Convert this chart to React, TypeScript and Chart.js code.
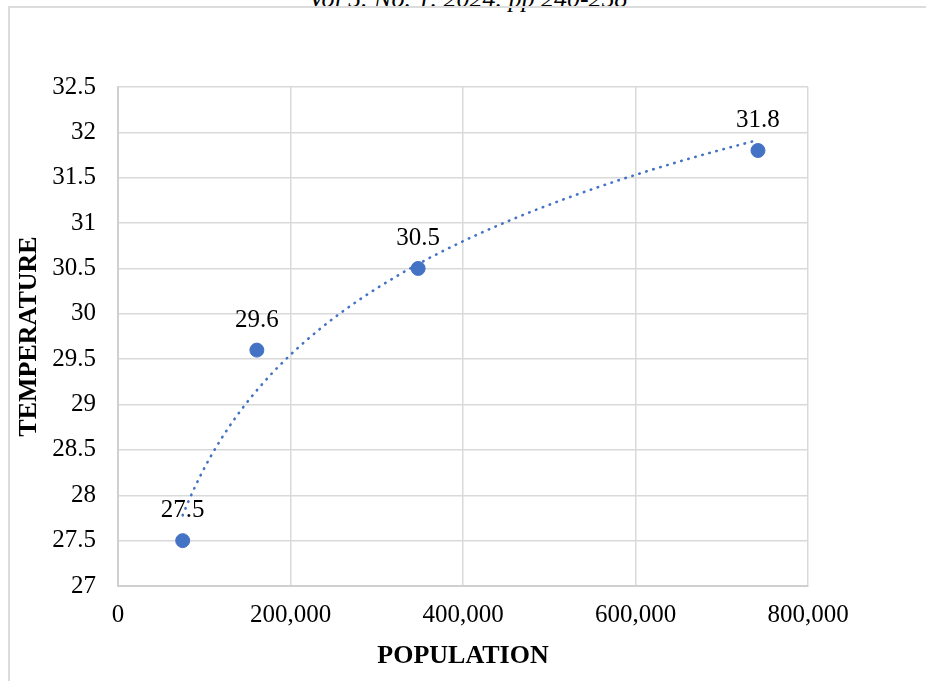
import React, { useEffect, useRef } from "react";
import { Chart, registerables } from "chart.js";

Chart.register(...registerables);

const populations = [75000, 161000, 348000, 742000];
const temperatures = [27.5, 29.6, 30.5, 31.8];
const xTickValues = [0, 200000, 400000, 600000, 800000];
const yTickValues = [27, 27.5, 28, 28.5, 29, 29.5, 30, 30.5, 31, 31.5, 32, 32.5];
const headerText = "Vol 5. No. 1. 2024. pp 240-258";
const xTitle = "POPULATION";
const yTitle = "TEMPERATURE";

const FONT = "'Liberation Serif', 'Times New Roman', serif";
const BLUE = "#4472C4";
const GRID = "#d9d9d9";

// Logarithmic least-squares trendline (as in Excel), from the data arrays.
function logFit(xs: number[], ys: number[]) {
  const lx = xs.map((v) => Math.log(v));
  const n = xs.length;
  const mx = lx.reduce((a, b) => a + b, 0) / n;
  const my = ys.reduce((a, b) => a + b, 0) / n;
  let sxy = 0;
  let sxx = 0;
  for (let i = 0; i < n; i++) {
    sxy += (lx[i] - mx) * (ys[i] - my);
    sxx += (lx[i] - mx) * (lx[i] - mx);
  }
  const b = sxy / sxx;
  const a = my - b * mx;
  return { a, b };
}

const dataLabelPlugin = {
  id: "dataLabels",
  afterDatasetsDraw(chart: any) {
    const meta = chart.getDatasetMeta(1);
    const ctx = chart.ctx;
    ctx.save();
    ctx.font = `25px ${FONT}`;
    ctx.fillStyle = "#000";
    ctx.textAlign = "center";
    ctx.textBaseline = "middle";
    meta.data.forEach((el: any, i: number) => {
      ctx.fillText(String(temperatures[i]), el.x, el.y - 30);
    });
    ctx.restore();
  },
};

export default function App() {
  const ref = useRef<HTMLCanvasElement | null>(null);

  useEffect(() => {
    if (!ref.current) return;
    const { a, b } = logFit(populations, temperatures);
    const xStart = populations[0];
    const xEnd = populations[populations.length - 1];
    const trend: { x: number; y: number }[] = [];
    const steps = 120;
    for (let i = 0; i <= steps; i++) {
      const x = xStart + ((xEnd - xStart) * i) / steps;
      trend.push({ x, y: a + b * Math.log(x) });
    }

    const chart = new Chart(ref.current, {
      type: "scatter",
      data: {
        datasets: [
          {
            type: "line",
            data: trend,
            borderColor: BLUE,
            borderWidth: 2.6,
            borderDash: [0.5, 6.8],
            borderCapStyle: "round",
            pointRadius: 0,
            fill: false,
            tension: 0,
          } as any,
          {
            data: populations.map((x, i) => ({ x, y: temperatures[i] })),
            backgroundColor: BLUE,
            borderColor: BLUE,
            pointRadius: 7,
            pointHoverRadius: 7,
          },
        ],
      },
      options: {
        animation: false,
        responsive: false,
        maintainAspectRatio: false,
        layout: { padding: { left: 0, top: 87, right: 118, bottom: 0 } },
        plugins: {
          legend: { display: false },
          tooltip: { enabled: false },
        },
        scales: {
          x: {
            type: "linear",
            min: 0,
            max: 800000,
            afterBuildTicks: (s: any) => {
              s.ticks = xTickValues.map((v) => ({ value: v }));
            },
            afterFit: (s: any) => {
              s.height = 95;
            },
            grid: { color: GRID, lineWidth: 1.5, drawTicks: false },
            border: { color: "#d0d0d0", width: 2 },
            ticks: {
              padding: 14,
              color: "#000",
              font: { family: FONT, size: 25 },
              callback: (v: any) => Number(v).toLocaleString("en-US"),
            },
            title: {
              display: true,
              text: xTitle,
              color: "#000",
              font: { family: FONT, size: 26, weight: "bold" },
              padding: { top: 0, bottom: 9 },
            },
          },
          y: {
            type: "linear",
            min: 27,
            max: 32.5,
            afterBuildTicks: (s: any) => {
              s.ticks = yTickValues.map((v) => ({ value: v }));
            },
            afterFit: (s: any) => {
              s.width = 118;
            },
            grid: { color: GRID, lineWidth: 1.5, drawTicks: false },
            border: { color: "#d0d0d0", width: 2 },
            ticks: {
              padding: 22,
              color: "#000",
              font: { family: FONT, size: 25 },
              callback: (v: any) => String(v),
            },
            title: {
              display: true,
              text: yTitle,
              color: "#000",
              font: { family: FONT, size: 26, weight: "bold" },
              padding: { top: 14, bottom: 0 },
            },
          },
        },
      } as any,
      plugins: [dataLabelPlugin],
    });
    return () => chart.destroy();
  }, []);

  return (
    <div
      style={{
        position: "fixed",
        left: 0,
        top: 0,
        width: 926,
        height: 681,
        overflow: "hidden",
        background: "#fff",
      }}
    >
      <div
        style={{
          position: "absolute",
          left: 0,
          width: 926,
          top: -14,
          textAlign: "center",
          fontFamily: FONT,
          fontStyle: "italic",
          fontSize: 26,
          lineHeight: "26px",
          color: "#000",
          whiteSpace: "nowrap",
          paddingLeft: 10,
          boxSizing: "border-box",
        }}
      >
        {headerText}
      </div>
      <div
        style={{
          position: "absolute",
          left: 8,
          top: 6,
          width: 960,
          height: 720,
          borderTop: "2px solid #dcdcdc",
          borderLeft: "2px solid #dcdcdc",
          boxSizing: "border-box",
        }}
      />
      <canvas
        ref={ref}
        width={926}
        height={681}
        style={{ position: "absolute", left: 0, top: 0, width: 926, height: 681 }}
      />
    </div>
  );
}
